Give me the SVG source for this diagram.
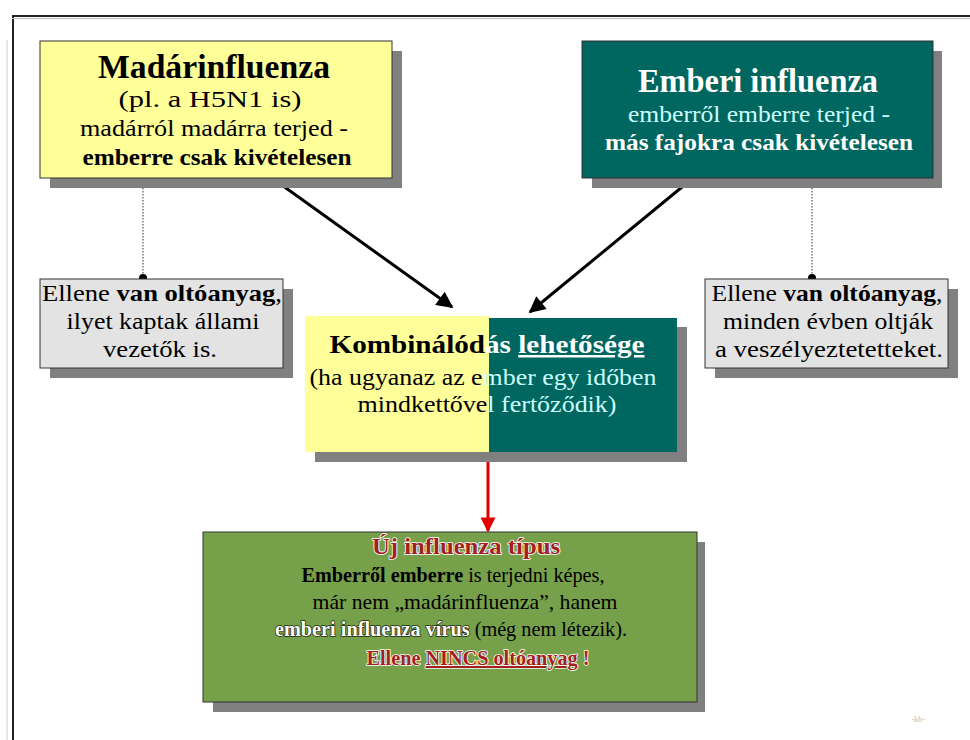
<svg xmlns="http://www.w3.org/2000/svg" width="970" height="740" viewBox="0 0 970 740">
<defs>
<style>
text{font-family:"Liberation Serif","Times New Roman",serif;text-anchor:middle}
.b{font-weight:bold}
.sh{fill:#808080}
.bx{stroke:#333;stroke-width:1}
.dot{fill:#000}
.dl{stroke:#777;stroke-width:1.5;stroke-dasharray:1.5 1.5;fill:none}
.ar{stroke:#000;stroke-width:3;fill:none}
.rd{fill:#a32020;stroke:#fff;stroke-width:1.6;paint-order:stroke;stroke-linejoin:round}
.wo{fill:#fff;stroke:#1a2a10;stroke-width:1.6;paint-order:stroke;stroke-linejoin:round}
</style>
<marker id="ah" viewBox="0 0 10 10" refX="9" refY="5" markerWidth="7" markerHeight="5.5" orient="auto" markerUnits="strokeWidth">
<path d="M0,0 L10,5 L0,10 z" fill="#000"/>
</marker>
<marker id="ahr" viewBox="0 0 10 10" refX="9" refY="5" markerWidth="6" markerHeight="5" orient="auto" markerUnits="strokeWidth">
<path d="M0,0 L10,5 L0,10 z" fill="#e00000"/>
</marker>
</defs>
<rect width="970" height="740" fill="#fff"/>
<g id="frame">
<line x1="7" y1="40" x2="7" y2="740" stroke="#ddd" stroke-width="1.5"/>
<line x1="13" y1="16" x2="13" y2="740" stroke="#222" stroke-width="2"/>
<line x1="12" y1="16" x2="970" y2="16" stroke="#222" stroke-width="2"/>
<line x1="12" y1="18.5" x2="970" y2="18.5" stroke="#bbb" stroke-width="1"/>
</g>
<g id="connectors">
<line class="dl" x1="143" y1="176" x2="143" y2="278"/>
<circle class="dot" cx="143" cy="176" r="4"/>
<circle class="dot" cx="143" cy="278" r="4"/>
<line class="dl" x1="812" y1="176" x2="812" y2="278"/>
<circle class="dot" cx="812" cy="176" r="4"/>
<circle class="dot" cx="812" cy="278" r="4"/>
<line class="ar" x1="272" y1="178" x2="452" y2="307" marker-end="url(#ah)"/>
<line class="ar" x1="693" y1="178" x2="530" y2="312" marker-end="url(#ah)"/>
<line x1="488" y1="453" x2="488" y2="531" stroke="#e00000" stroke-width="3" marker-end="url(#ahr)"/>
</g>
<g id="madar">
<rect class="sh" x="50" y="51" width="352" height="137"/>
<rect class="bx" x="40" y="41" width="352" height="137" fill="#ffff99"/>
<text class="b" x="214" y="78" font-size="33" textLength="232" lengthAdjust="spacingAndGlyphs">Madárinfluenza</text>
<text x="210" y="107" font-size="23" textLength="183" lengthAdjust="spacingAndGlyphs">(pl. a H5N1 is)</text>
<text x="214" y="136" font-size="23" textLength="268" lengthAdjust="spacingAndGlyphs">madárról madárra terjed -</text>
<text class="b" x="217" y="165" font-size="23" textLength="269" lengthAdjust="spacingAndGlyphs">emberre csak kivételesen</text>
</g>
<g id="emberi">
<rect class="sh" x="592" y="51" width="350" height="137"/>
<rect class="bx" x="582" y="41" width="351" height="137" fill="#006660"/>
<text class="b" x="758" y="92" font-size="33" fill="#fff" textLength="240" lengthAdjust="spacingAndGlyphs">Emberi influenza</text>
<text x="759" y="122" font-size="23" fill="#ccffff" textLength="262" lengthAdjust="spacingAndGlyphs">emberről emberre terjed -</text>
<text class="b" x="759" y="150" font-size="23" fill="#fff" textLength="308" lengthAdjust="spacingAndGlyphs">más fajokra csak kivételesen</text>
</g>
<g id="left-note">
<rect class="sh" x="50" y="289" width="243" height="89"/>
<rect class="bx" x="40" y="279" width="243" height="89" fill="#e3e3e3"/>
<text x="162" y="301" font-size="23" textLength="240" lengthAdjust="spacingAndGlyphs">Ellene <tspan class="b">van oltóanyag</tspan>,</text>
<text x="163" y="329" font-size="23" textLength="193" lengthAdjust="spacingAndGlyphs">ilyet kaptak állami</text>
<text x="160" y="357" font-size="23" textLength="114" lengthAdjust="spacingAndGlyphs">vezetők is.</text>
</g>
<g id="right-note">
<rect class="sh" x="715" y="289" width="243" height="89"/>
<rect class="bx" x="705" y="279" width="243" height="89" fill="#e3e3e3"/>
<text x="827" y="301" font-size="23" textLength="231" lengthAdjust="spacingAndGlyphs">Ellene <tspan class="b">van oltóanyag</tspan>,</text>
<text x="828" y="329" font-size="23" textLength="210" lengthAdjust="spacingAndGlyphs">minden évben oltják</text>
<text x="829" y="357" font-size="23" textLength="228" lengthAdjust="spacingAndGlyphs">a veszélyeztetetteket.</text>
</g>
<g id="kombinalodas">
<rect class="sh" x="315" y="327" width="372" height="135"/>
<rect x="305" y="316" width="184" height="136" fill="#ffff99"/>
<rect x="489" y="318" width="188" height="134" fill="#006660"/>
<text class="b" x="487" y="353" font-size="25" textLength="315" lengthAdjust="spacingAndGlyphs">Kombinálód<tspan fill="#fff">ás </tspan><tspan fill="#fff" text-decoration="underline">lehetősége</tspan></text>
<text x="483" y="385" font-size="24" textLength="347" lengthAdjust="spacingAndGlyphs">(ha ugyanaz az e<tspan fill="#ccffff">mber egy időben</tspan></text>
<text x="487" y="412" font-size="24" textLength="259" lengthAdjust="spacingAndGlyphs">mindkettőve<tspan fill="#ccffff">l fertőződik)</tspan></text>
</g>
<g id="uj-tipus">
<rect class="sh" x="213" y="542" width="492" height="170"/>
<rect class="bx" x="203" y="532" width="494" height="170" fill="#77a04a"/>
<text class="b rd" x="466" y="554" font-size="23" textLength="188" lengthAdjust="spacingAndGlyphs">Új influenza típus</text>
<text x="453" y="582" font-size="22" textLength="303" lengthAdjust="spacingAndGlyphs"><tspan class="b">Emberről emberre</tspan> is terjedni képes,</text>
<text x="465" y="609" font-size="22" textLength="305" lengthAdjust="spacingAndGlyphs">már nem „madárinfluenza”, hanem</text>
<text x="451" y="636" font-size="22" textLength="352" lengthAdjust="spacingAndGlyphs"><tspan class="b wo">emberi influenza vírus</tspan> (még nem létezik).</text>
<text class="b rd" x="478" y="665" font-size="20" textLength="223" lengthAdjust="spacingAndGlyphs">Ellene <tspan text-decoration="underline">NINCS oltóanyag</tspan> !</text>
</g>
<text x="918" y="722" font-size="8" fill="#bbb" font-family="Liberation Sans, sans-serif">-kb-</text>
</svg>
